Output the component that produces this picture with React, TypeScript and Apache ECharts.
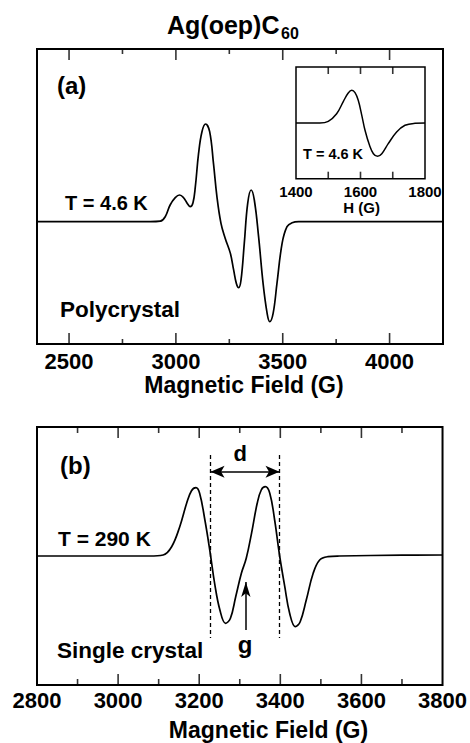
import React, { useEffect, useRef } from 'react';
import * as echarts from 'echarts';

// ---- Data ----
const titleMain = 'Ag(oep)C';
const titleSub = '60';

// Panel (a): polycrystal, T = 4.6 K
const aField = [2350, 2700, 2880, 2927, 2950, 2973, 2997, 3017, 3036, 3055, 3067, 3080, 3091, 3106, 3122, 3139, 3158, 3176, 3192, 3211, 3231, 3255, 3270, 3283, 3294, 3305, 3320, 3336, 3352, 3367, 3387, 3408, 3427, 3439, 3455, 3473, 3497, 3520, 3544, 3575, 3900, 4250];
const aSignal = [0, 0, 0, 0.5, 5, 16.7, 24, 26.7, 24, 17.7, 15, 19, 35, 68, 90, 97.7, 90, 58, 25, -1.7, -16.7, -31.7, -48, -61.7, -66, -58, -21.7, 18.3, 31.7, 21.7, -15, -61.7, -91.7, -100, -91.7, -61.7, -21.7, -5, -1, 0, 0, 0];
const aMajorTicks = [2500, 3000, 3500, 4000];
const aMinorTicks = [2750, 3250, 3750];

// Inset of panel (a)
const insetField = [1400, 1474, 1500, 1526, 1547, 1562, 1573, 1583, 1593, 1604, 1614, 1628, 1640, 1653, 1666, 1686, 1712, 1738, 1769, 1800];
const insetSignal = [0, 0, 1.7, 9.3, 21.7, 30, 32.7, 30.3, 22.7, 7.7, -7.3, -22.3, -30.7, -33.3, -30.7, -20.7, -9, -2.3, -0.3, 0];
const insetTickLabels = [1400, 1600, 1800];
const insetTicks = [1500, 1600, 1700];

// Panel (b): single crystal, T = 290 K
const bField = [2800, 3000, 3078, 3111, 3132, 3152, 3169, 3181, 3192, 3201, 3214, 3226, 3238, 3251, 3265, 3277, 3290, 3304, 3316, 3329, 3343, 3353, 3363, 3374, 3386, 3398, 3411, 3423, 3437, 3449, 3464, 3481, 3497, 3517, 3546, 3700, 3800];
const bSignal = [0, 0, 0, 1, 9.3, 29.3, 52.7, 65.3, 68.3, 62.7, 36, 6, -27.3, -54, -67.3, -62.3, -40.7, -17.3, -2.3, 22.7, 52.7, 66, 69.3, 62.7, 36, 1, -30.7, -57.3, -70.7, -65.7, -44, -17.3, -4, -0.7, 0, 0.8, 1];
const bMajorTicks = [3000, 3200, 3400, 3600];
const bMinorTicks = [2900, 3100, 3300, 3500, 3700];
// annotation positions (field values)
const dLeft = 3228;
const dRight = 3398;
const gField = 3315;

// y extents (arbitrary signal units, 1 unit ~ 1 px)
const aY = [-122.3, 172.7];
const insetY = [-55.7, 56];
const bY = [-129, 129];

const F = '"Liberation Sans", Arial, Helvetica, sans-serif';
const BLACK = '#000';

function pairs(xs: number[], ys: number[]) {
  return xs.map((x, i) => [x, ys[i]]);
}

// inward tick marks on the bottom and top frame edges, as rect symbols placed through the scales
function tickSeries(xi: number, yi: number, values: number[], yr: number[], len: number) {
  const data: number[][] = [];
  values.forEach((v) => {
    data.push([v, yr[0] + len / 2]);
    data.push([v, yr[1] - len / 2]);
  });
  return {
    type: 'scatter',
    xAxisIndex: xi,
    yAxisIndex: yi,
    data,
    symbol: 'rect',
    symbolSize: [1.6, len],
    itemStyle: { color: BLACK },
    silent: true,
    z: 10,
    clip: false,
  };
}

function txt(text: string, x: number, y: number, size: number, align = 'left') {
  return {
    type: 'text',
    x,
    y,
    z: 100,
    style: { text, fill: BLACK, fontSize: size, fontWeight: 'bold', fontFamily: F, align, verticalAlign: 'middle' },
  };
}

function xAxisDef(gridIndex: number, min: number, max: number, labelSize: number, margin: number, extra: any = {}) {
  return {
    type: 'value',
    gridIndex,
    position: 'bottom',
    min,
    max,
    axisLine: { show: false, onZero: false },
    axisTick: { show: false },
    splitLine: { show: false },
    axisLabel: {
      show: true,
      color: BLACK,
      fontSize: labelSize,
      fontWeight: 'bold',
      fontFamily: F,
      margin,
      formatter: (v: number) => String(v),
      ...(extra.labelValues ? { customValues: extra.labelValues } : {}),
    },
    ...(extra.interval ? { interval: extra.interval } : {}),
  };
}

const option: any = {
  animation: false,
  backgroundColor: '#fff',
  grid: [
    { left: 37, top: 49, width: 406, height: 295, show: true, borderColor: BLACK, borderWidth: 2 },
    { left: 296, top: 67, width: 129, height: 111.7, show: true, borderColor: BLACK, borderWidth: 1.5 },
    { left: 37, top: 427, width: 406, height: 258, show: true, borderColor: BLACK, borderWidth: 2 },
  ],
  xAxis: [
    xAxisDef(0, 2350, 4250, 22, 6, { labelValues: aMajorTicks }),
    xAxisDef(1, 1400, 1800, 15, 5, { labelValues: insetTickLabels, interval: 100 }),
    xAxisDef(2, 2800, 3800, 22, 4, { interval: 200 }),
  ],
  yAxis: [
    { type: 'value', gridIndex: 0, min: aY[0], max: aY[1], show: false },
    { type: 'value', gridIndex: 1, min: insetY[0], max: insetY[1], show: false },
    { type: 'value', gridIndex: 2, min: bY[0], max: bY[1], show: false },
  ],
  series: [
    {
      type: 'line',
      xAxisIndex: 0,
      yAxisIndex: 0,
      data: pairs(aField, aSignal),
      smooth: 0.4,
      showSymbol: false,
      symbol: 'none',
      lineStyle: { color: BLACK, width: 1.7 },
    },
    {
      type: 'line',
      xAxisIndex: 1,
      yAxisIndex: 1,
      data: pairs(insetField, insetSignal),
      smooth: 0.4,
      showSymbol: false,
      symbol: 'none',
      lineStyle: { color: BLACK, width: 1.5 },
    },
    {
      type: 'line',
      xAxisIndex: 2,
      yAxisIndex: 2,
      data: pairs(bField, bSignal),
      smooth: 0.4,
      showSymbol: false,
      symbol: 'none',
      lineStyle: { color: BLACK, width: 1.7 },
      markLine: {
        silent: true,
        animation: false,
        symbol: ['none', 'none'],
        label: { show: false },
        lineStyle: { color: BLACK, width: 1.3, type: [4, 3] },
        data: [
          [{ coord: [dLeft, 101] }, { coord: [dLeft, -82] }],
          [{ coord: [dRight, 101] }, { coord: [dRight, -82] }],
          [
            { coord: [dLeft, 84.3], symbol: 'arrow', symbolSize: [9, 14], lineStyle: { type: 'solid', width: 1.5, color: BLACK } },
            { coord: [dRight, 84.3], symbol: 'arrow', symbolSize: [9, 14] },
          ],
          [
            { coord: [gField, -74], symbol: 'none', lineStyle: { type: 'solid', width: 1.5, color: BLACK } },
            { coord: [gField, -26], symbol: 'arrow', symbolSize: [7, 15] },
          ],
        ],
      },
    },
    tickSeries(0, 0, aMajorTicks, aY, 11),
    tickSeries(0, 0, aMinorTicks, aY, 5),
    tickSeries(1, 1, insetTicks, insetY, 7),
    tickSeries(2, 2, bMajorTicks, bY, 11),
    tickSeries(2, 2, bMinorTicks, bY, 6),
  ],
  graphic: [
    txt(titleMain, 167, 25, 25),
    txt(titleSub, 281, 33, 16),
    txt('(a)', 57, 85, 24),
    txt('T = 4.6 K', 65, 202.5, 20),
    txt('Polycrystal', 60, 309, 22.5),
    txt('T = 4.6 K', 303, 154.3, 14.5),
    txt('H (G)', 361.7, 207.5, 15, 'center'),
    txt('Magnetic Field (G)', 244, 385, 23, 'center'),
    txt('(b)', 60, 465.5, 24),
    txt('T = 290 K', 58, 538.8, 21),
    txt('Single crystal', 57, 650.5, 22.5),
    txt('d', 240.3, 453, 22, 'center'),
    txt('g', 245, 644, 24, 'center'),
    txt('Magnetic Field (G)', 268.5, 730, 23, 'center'),
  ],
};

export default function App() {
  const ref = useRef<HTMLDivElement>(null);
  useEffect(() => {
    const chart = echarts.init(ref.current as HTMLDivElement, null, { renderer: 'svg' });
    chart.setOption(option);
    return () => chart.dispose();
  }, []);
  return <div ref={ref} style={{ position: 'absolute', left: 0, top: 0, width: 470, height: 743, background: '#fff' }} />;
}
